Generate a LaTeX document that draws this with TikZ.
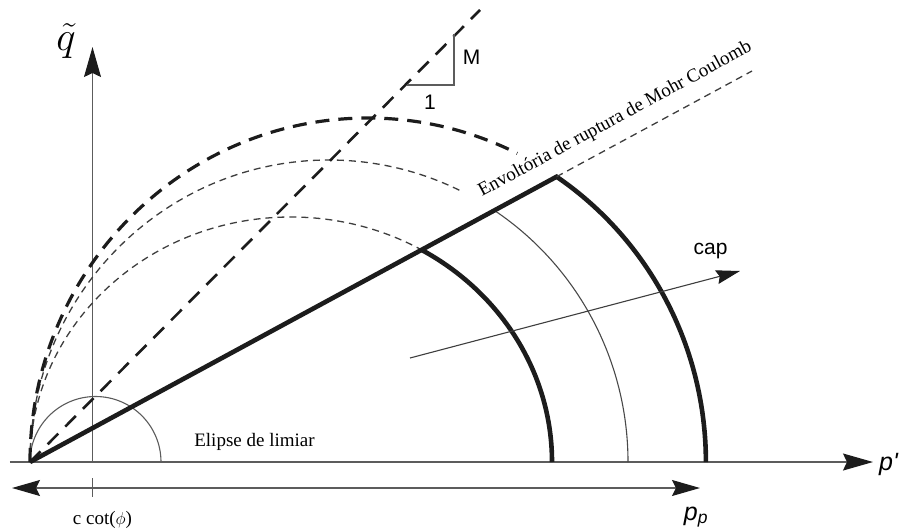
\documentclass[tikz,border=0pt]{standalone}
\usepackage{fontspec}
\setmainfont{Liberation Serif}
\setsansfont{Liberation Sans}
\usetikzlibrary{arrows.meta,calc}
\usepackage{xcolor}
\definecolor{axisgray}{HTML}{5C5C5C}
\definecolor{ink}{HTML}{1C1C1C}
\tikzset{
  axisline/.style={draw=axisgray,line width=1.3pt,-{Stealth[length=30pt,width=17pt,inset=4pt,color=ink]}},
  dimline/.style={draw=axisgray,line width=1.3pt,{Stealth[length=28pt,width=16pt,inset=4pt,color=ink]}-{Stealth[length=28pt,width=16pt,inset=4pt,color=ink]}},
  thinline/.style={draw=axisgray,line width=1.1pt},
  caparr/.style={draw=ink!85,line width=1.1pt,-{Stealth[length=24pt,width=14pt,inset=3pt,color=ink]}},
  capthick/.style={draw=ink,line width=4.6pt,line join=miter},
  capthin/.style={draw=ink!80,line width=1.1pt},
  yldthick/.style={draw=ink,line width=3.2pt,dash pattern=on 14pt off 9pt},
  yldthin/.style={draw=ink!85,line width=1.3pt,dash pattern=on 7pt off 5pt},
  slopeline/.style={draw=ink,line width=2.6pt,dash pattern=on 15pt off 10pt},
  serifl/.style={inner sep=0pt,font=\fontsize{19}{22}\selectfont},
  sansl/.style={inner sep=0pt,font=\sffamily\fontsize{21}{24}\selectfont},
  axisl/.style={inner sep=0pt,font=\sffamily\itshape\fontsize{25}{28}\selectfont}
}

\begin{document}
\begin{tikzpicture}[x=1pt,y=1pt]
  \useasboundingbox (-30,-69) rectangle (871,462);
  % points
  \coordinate (O) at (0,0);
  \coordinate (pstart) at (-20,0);
  \coordinate (pend) at (843,0);
  \coordinate (qbase) at (62.5,0);
  \coordinate (qend) at (62.5,415);
  \coordinate (dimL) at (-18,-26);
  \coordinate (dimR) at (670,-26);
  \coordinate (tickT) at (62.5,-16);
  \coordinate (tickB) at (62.5,-35);
  \coordinate (E1) at (261,0);
  \coordinate (E2) at (299,0);
  \coordinate (E3) at (338,0);
  \coordinate (K3) at (526.6,285.3);
  \coordinate (mcend) at (722,391);
  \coordinate (Mend) at (450,452);
  \coordinate (T1) at (377,377);
  \coordinate (T2) at (424,377);
  \coordinate (T3) at (424,428);
  \coordinate (cap0) at (380,104);
  \coordinate (cap1) at (710,191);

  % axes
  \draw[axisline] (pstart) -- (pend);
  \draw[axisline] (qbase) -- (qend);
  \draw[dimline] (dimL) -- (dimR);
  \draw[thinline] (tickT) -- (tickB);

  % elipse de limiar
  \draw[thinline] (O) arc[start angle=180,end angle=0,radius=65.5];

  % superficies de escoamento
  \draw[yldthin] (O) arc[start angle=180,end angle=60,x radius=261,y radius=245];
  \draw[capthick] (E1) ++(60:261 and 245) arc[start angle=60,end angle=0,x radius=261,y radius=245];
  \draw[yldthin] (O) arc[start angle=180,end angle=64,x radius=299,y radius=302];
  \draw[capthin] (E2) ++(56.4:299 and 302) arc[start angle=56.4,end angle=0,x radius=299,y radius=302];
  \draw[yldthick] (O) arc[start angle=180,end angle=63.8,x radius=338,y radius=344];
  \draw[capthick] (O) -- (K3) arc[start angle=56.06,end angle=0,x radius=338,y radius=344];
  \draw[yldthin] (K3) -- (mcend);

  % linha de estado critico
  \draw[slopeline] (O) -- (Mend);
  \draw[thinline] (T1) -- (T2) -- (T3);

  % cap
  \draw[caparr] (cap0) -- (cap1);

  % labels
  \node[serifl] (limiar) at (224.5,20) {Elipse de limiar};
  \node[serifl,rotate=28.45,anchor=base west] (mclab) at (452,265) {Envoltória de ruptura de Mohr Coulomb};
  \node[serifl] (ccot) at (72.5,-58) {c cot($\phi$)};
  \node[axisl] (pp) at (666,-55) {p\textsubscript{p}};
  \node[axisl,anchor=west] (pprime) at (849,-2) {p\textquotesingle};
  \node[inner sep=0pt,font=\fontsize{24}{28}\selectfont,scale=1.65] (qlab) at (36,420.5) {$\tilde{q}$};
  \node[sansl] (Mlab) at (441.5,404.5) {M};
  \node[sansl] (onelab) at (400,359.5) {1};
  \node[sansl] (caplab) at (680.5,211) {cap};
\end{tikzpicture}
\end{document}
